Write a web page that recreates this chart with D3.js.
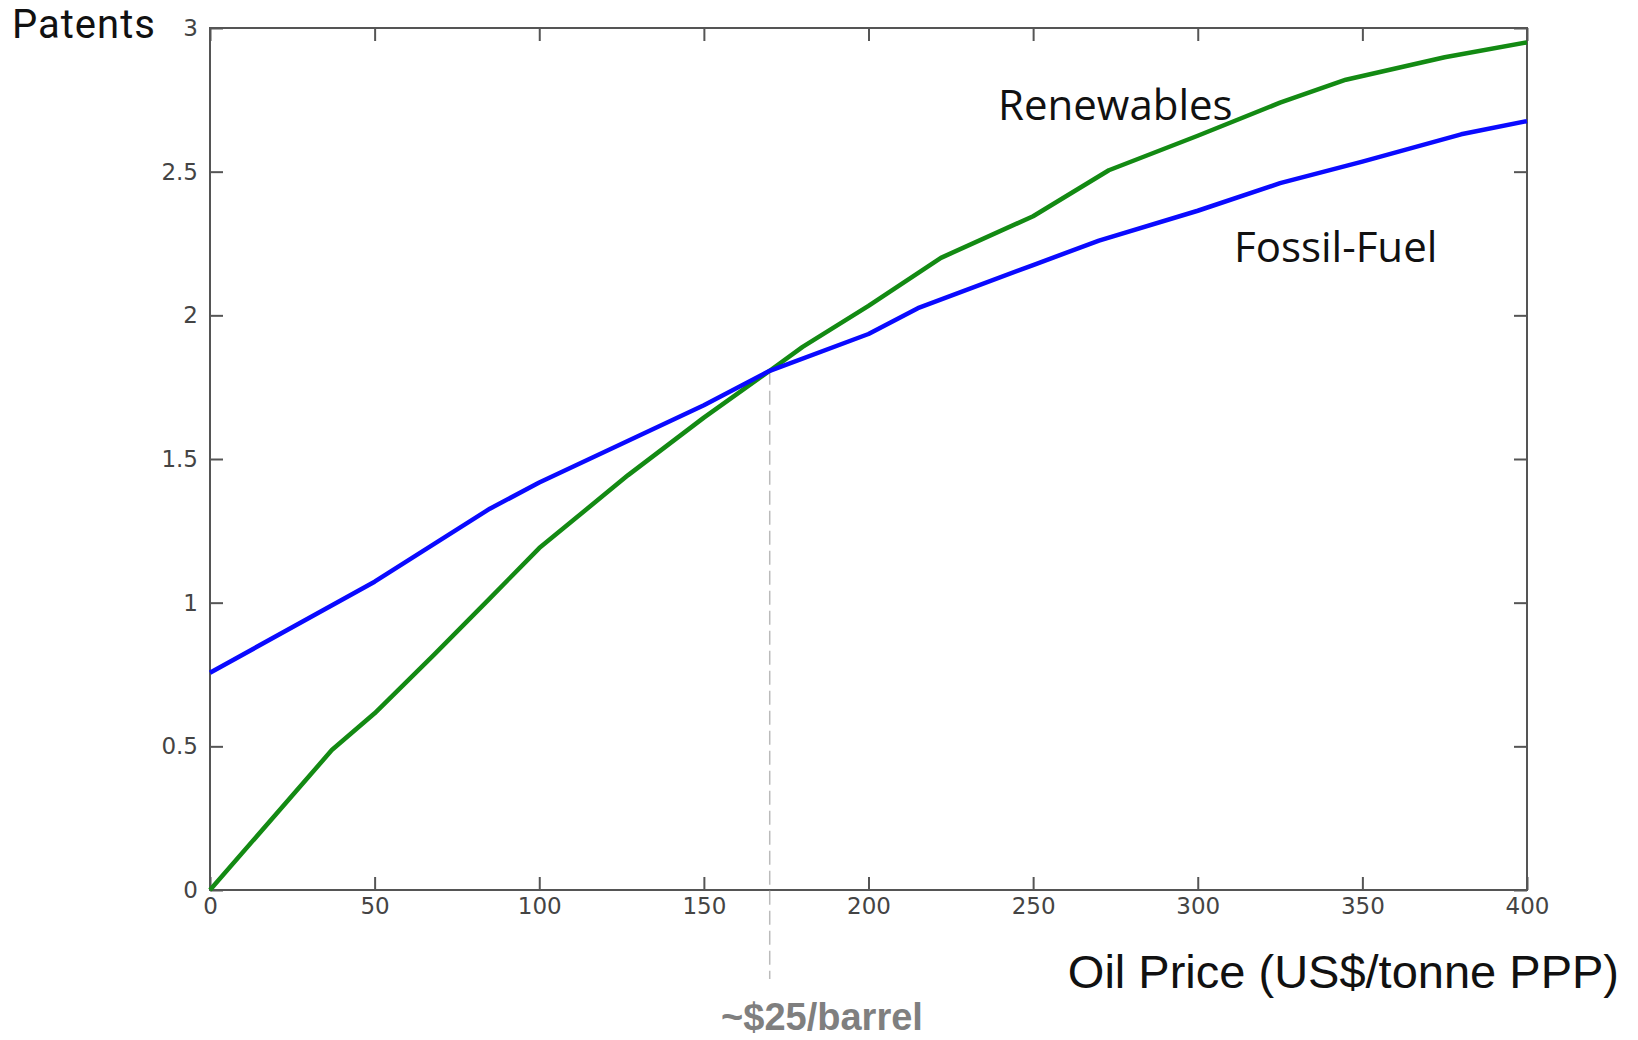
<!DOCTYPE html>
<html><head><meta charset="utf-8">
<script src="https://cdn.jsdelivr.net/npm/d3@7"></script>
<style>body{margin:0;background:#fff}svg{display:block}</style>
</head><body>
<script>
const xTicks = [0, 50, 100, 150, 200, 250, 300, 350, 400];
const yTicks = [0, 0.5, 1, 1.5, 2, 2.5, 3];
const fossilX = [0, 50, 85, 100, 150, 170, 200, 215, 250, 270, 300, 325, 350, 380, 400];
const fossilY = [0.756, 1.073, 1.327, 1.418, 1.687, 1.807, 1.935, 2.025, 2.175, 2.26, 2.364, 2.46, 2.535, 2.63, 2.676];
const renewX = [0, 37, 50, 68, 85, 100, 127, 150, 170, 180, 200, 222, 250, 273, 300, 325, 345, 375, 400];
const renewY = [0, 0.487, 0.615, 0.818, 1.015, 1.19, 1.444, 1.644, 1.807, 1.89, 2.033, 2.2, 2.345, 2.505, 2.625, 2.74, 2.82, 2.898, 2.95];
const crossX = 170, crossY = 1.807;

const W = 1638, H = 1040;
const m = {left: 210, right: 1527, top: 28, bottom: 890};
const svg = d3.select("body").append("svg").attr("width", W).attr("height", H);
const x = d3.scaleLinear().domain([0, 400]).range([m.left, m.right]);
const y = d3.scaleLinear().domain([0, 3]).range([m.bottom, m.top]);

const tickFont = "DejaVu Sans, sans-serif";
const axCol = "#555";
const tl = 13;

function styleAxis(g) {
  g.selectAll(".domain").remove();
  g.selectAll(".tick line").attr("stroke", axCol).attr("stroke-width", 2);
  g.selectAll(".tick text").attr("fill", "#444").attr("font-family", tickFont).attr("font-size", 23);
}
svg.append("g").attr("transform", `translate(0,${m.bottom})`)
  .call(d3.axisBottom(x).tickValues(xTicks).tickFormat(d3.format("d")).tickSizeInner(-tl).tickSizeOuter(0).tickPadding(8))
  .call(styleAxis);
svg.append("g").attr("transform", `translate(0,${m.top})`)
  .call(d3.axisTop(x).tickValues(xTicks).tickFormat("").tickSizeInner(-tl).tickSizeOuter(0))
  .call(styleAxis);
svg.append("g").attr("transform", `translate(${m.left},0)`)
  .call(d3.axisLeft(y).tickValues(yTicks).tickFormat(d => d).tickSizeInner(-tl).tickSizeOuter(0).tickPadding(12))
  .call(styleAxis);
svg.append("g").attr("transform", `translate(${m.right},0)`)
  .call(d3.axisRight(y).tickValues(yTicks).tickFormat("").tickSizeInner(-tl).tickSizeOuter(0))
  .call(styleAxis);

svg.append("rect").attr("x", m.left).attr("y", m.top)
  .attr("width", m.right - m.left).attr("height", m.bottom - m.top)
  .attr("fill", "none").attr("stroke", axCol).attr("stroke-width", 2);

// dashed marker line
svg.append("line").attr("x1", x(crossX)).attr("x2", x(crossX))
  .attr("y1", y(crossY)).attr("y2", 979)
  .attr("stroke", "#bbb").attr("stroke-width", 1.5).attr("stroke-dasharray", "14,6");

const line = d3.line().x(d => x(d[0])).y(d => y(d[1]));
svg.append("path").datum(renewX.map((v, i) => [v, renewY[i]]))
  .attr("d", line).attr("fill", "none").attr("stroke", "#138a13").attr("stroke-width", 4.5).attr("stroke-linejoin", "round");
svg.append("path").datum(fossilX.map((v, i) => [v, fossilY[i]]))
  .attr("d", line).attr("fill", "none").attr("stroke", "#0a0aff").attr("stroke-width", 4.5).attr("stroke-linejoin", "round");

const labFont = "Open Sans, DejaVu Sans, sans-serif";
svg.append("text").attr("x", 12).attr("y", 38).text("Patents")
  .attr("font-family", "Roboto, sans-serif").attr("font-size", 40).attr("letter-spacing", 1).attr("fill", "#111");
svg.append("text").attr("x", 998).attr("y", 120).text("Renewables")
  .attr("font-family", labFont).attr("font-size", 42).attr("fill", "#111");
svg.append("text").attr("x", 1234).attr("y", 262).text("Fossil-Fuel")
  .attr("font-family", labFont).attr("font-size", 42).attr("fill", "#111");
svg.append("text").attr("x", 1619).attr("y", 988).attr("text-anchor", "end").text("Oil Price (US$/tonne PPP)")
  .attr("font-family", "Liberation Sans, Arial, sans-serif").attr("font-size", 47).attr("fill", "#111");
svg.append("text").attr("x", 822).attr("y", 1030).attr("text-anchor", "middle").text("~$25/barrel")
  .attr("font-family", "Liberation Sans, Arial, sans-serif").attr("font-size", 38).attr("font-weight", "bold").attr("fill", "#7f7f7f");
</script>
</body></html>
